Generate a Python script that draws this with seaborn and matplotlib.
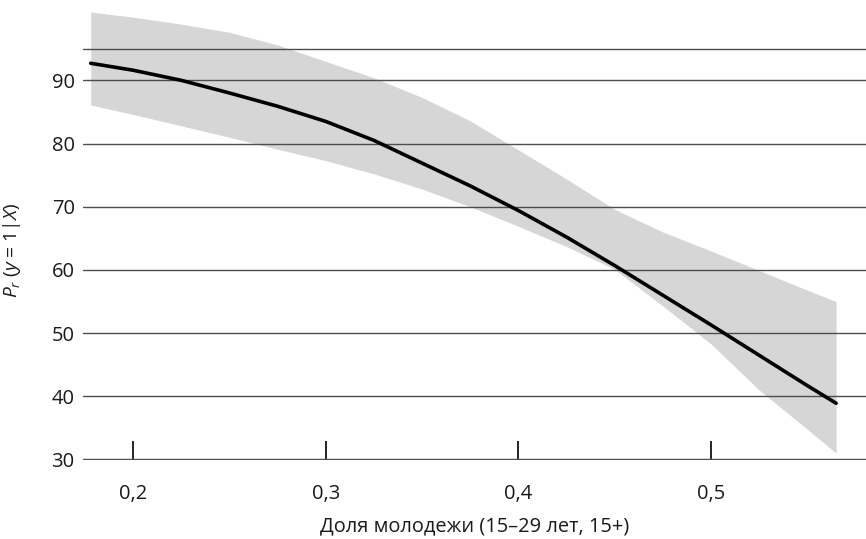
import matplotlib
matplotlib.use("Agg")
import matplotlib.pyplot as plt
import seaborn as sns
import pandas as pd

# ---- data ----
youth_share = [0.178, 0.20, 0.225, 0.25, 0.275, 0.30, 0.325, 0.35, 0.375,
               0.40, 0.425, 0.45, 0.475, 0.50, 0.525, 0.55, 0.565]
prob_fit = [92.7, 91.6, 90.0, 88.0, 85.9, 83.5, 80.5, 76.9, 73.3,
            69.4, 65.2, 60.7, 56.0, 51.3, 46.5, 41.7, 38.9]
prob_upper = [100.8, 100.0, 98.9, 97.6, 95.6, 93.0, 90.4, 87.3, 83.6,
              79.0, 74.4, 69.6, 66.0, 63.0, 59.9, 56.8, 55.0]
prob_lower = [86.1, 84.6, 82.8, 81.0, 79.1, 77.3, 75.2, 72.8, 70.0,
              66.9, 63.7, 60.1, 54.3, 48.3, 41.0, 34.8, 31.0]

x_ticks = [0.2, 0.3, 0.4, 0.5]
x_tick_labels = ["0,2", "0,3", "0,4", "0,5"]
y_ticks = [30, 40, 50, 60, 70, 80, 90, 95]
y_tick_labels = ["30", "40", "50", "60", "70", "80", "90", ""]

x_label = "Доля молодежи (15–29 лет, 15+)"
y_label = r"$P_r$ ($y$ = 1|$X$)"

df = pd.DataFrame({"x": youth_share, "fit": prob_fit,
                   "lo": prob_lower, "hi": prob_upper})

sns.set_style("white")
plt.rcParams["font.family"] = ["Open Sans", "DejaVu Sans"]
plt.rcParams["mathtext.fontset"] = "custom"
plt.rcParams["mathtext.rm"] = "Open Sans"
plt.rcParams["mathtext.it"] = "Open Sans:italic"

fig = plt.figure(figsize=(8.66, 5.39), dpi=100)
ax = fig.add_axes([83 / 866, (539 - 459.5) / 539, 783 / 866, 455 / 539])

ax.fill_between(df["x"], df["lo"], df["hi"], color="#d6d6d6",
                linewidth=0, zorder=0.5)
sns.lineplot(data=df, x="x", y="fit", ax=ax, color="black",
             linewidth=2.6, zorder=2)

ax.set_xlim(0.174, 0.5805)
ax.set_ylim(30, 102)

ax.set_yticks(y_ticks)
ax.set_yticklabels(y_tick_labels)
ax.set_xticks(x_ticks)
ax.set_xticklabels(x_tick_labels)

ax.set_axisbelow("line")
ax.yaxis.grid(True, color="#4d4d4d", linewidth=1.0)
ax.xaxis.grid(False)
for s in ax.spines.values():
    s.set_visible(False)

ax.tick_params(axis="y", length=0, pad=6, labelsize=14.5, labelcolor="#1a1a1a")
ax.tick_params(axis="x", direction="in", length=14, width=1.2, color="black",
               pad=18, labelsize=14.5, labelcolor="#1a1a1a", bottom=True)

ax.set_xlabel(x_label, fontsize=14.4, color="#1a1a1a")
ax.set_ylabel(y_label, fontsize=13.8, color="#1a1a1a")
ax.xaxis.set_label_coords(0.5, -0.124)
ax.yaxis.set_label_coords(-0.076, 0.46)

fig.savefig("out.png", dpi=100)
